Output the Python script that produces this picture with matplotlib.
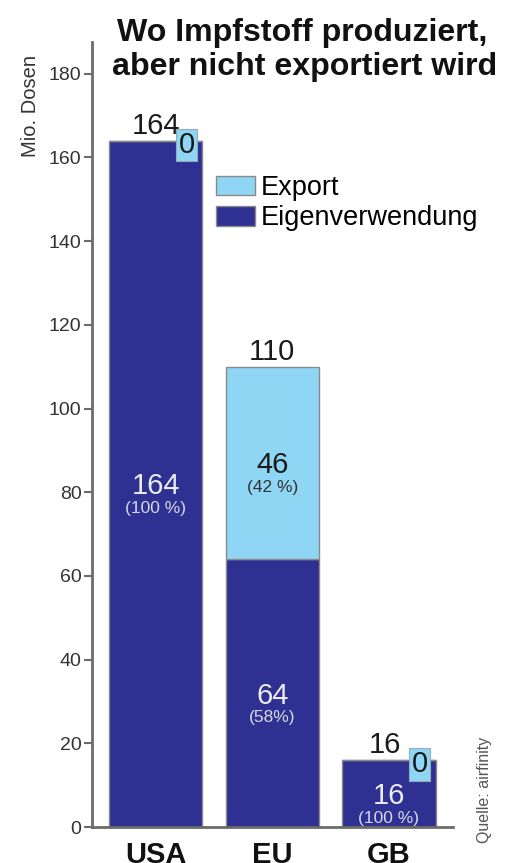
import matplotlib
matplotlib.use("Agg")
import matplotlib.pyplot as plt
from matplotlib.patches import Patch

plt.rcParams['font.family'] = ['Liberation Sans', 'DejaVu Sans']

categories = ["USA", "EU", "GB"]
eigen = [164, 64, 16]
export = [0, 46, 0]
eigen_pct = ["(100 %)", "(58%)", "(100 %)"]
export_pct = ["", "(42 %)", ""]
yticks = [0, 20, 40, 60, 80, 100, 120, 140, 160, 180]

DARK = "#2e3192"
LIGHT = "#8ed6f4"
EDGE = "#8a8a8a"
AXC = "#6b6b6b"

fig = plt.figure(figsize=(5.18, 8.63), dpi=100)
ax = fig.add_axes([92/518, 1-827/863, (453-92)/518, (827-42)/863])

x = list(range(len(categories)))
totals = [e + x_ for e, x_ in zip(eigen, export)]
ax.bar(x, eigen, width=0.8, color=DARK, edgecolor=EDGE, linewidth=1, zorder=2)
ax.bar(x, export, width=0.8, bottom=eigen, color=LIGHT, edgecolor=EDGE, linewidth=1, zorder=2)

ax.set_xlim(-0.545, 2.55)
ax.set_ylim(0, 187.6)
ax.set_yticks(yticks)
ax.set_xticks(x)
ax.set_xticklabels(categories, fontsize=21, fontweight='bold', color='#111111')
ax.tick_params(axis='x', length=0, pad=10)
ax.tick_params(axis='y', length=6, width=1.5, color=AXC, labelsize=14, labelcolor='#333333', pad=1.5)
for s in ['top', 'right']:
    ax.spines[s].set_visible(False)
for s in ['left', 'bottom']:
    ax.spines[s].set_color(AXC)
    ax.spines[s].set_linewidth(2)

for i in x:
    # total on top
    dx = -3 if export[i] == 0 and totals[i] < 50 else 0
    ax.annotate(str(totals[i]), (i, totals[i]), xytext=(dx, 5), textcoords='offset points',
                ha='center', va='baseline', fontsize=21, color='#1a1a1a')
    # eigen segment label
    mid = eigen[i] / 2
    ax.annotate(str(eigen[i]), (i, mid), xytext=(0, -7.5), textcoords='offset points',
                ha='center', va='baseline', fontsize=21, color='#ececf5')
    ax.annotate(eigen_pct[i], (i, mid), xytext=(0, -21), textcoords='offset points',
                ha='center', va='baseline', fontsize=12.5, color='#d8d8e8')
    if export[i] > 0:
        midx = eigen[i] + export[i] / 2
        ax.annotate(str(export[i]), (i, midx), xytext=(0, -7.5), textcoords='offset points',
                    ha='center', va='baseline', fontsize=21, color='#1a1a1a')
        ax.annotate(export_pct[i], (i, midx), xytext=(0, -21), textcoords='offset points',
                    ha='center', va='baseline', fontsize=12.5, color='#333333')
    else:
        ax.annotate(str(export[i]), (i + 0.265, totals[i]), xytext=(0, -3), textcoords='offset points',
                    ha='center', va='center', fontsize=21, color='#1a1a1a',
                    bbox=dict(boxstyle='square,pad=0.08', facecolor=LIGHT, edgecolor='#9ab', linewidth=0.8),
                    zorder=5)

handles = [Patch(facecolor=LIGHT, edgecolor=EDGE), Patch(facecolor=DARK, edgecolor=EDGE)]
fig.legend(handles, ["Export", "Eigenverwendung"], loc='upper left',
           bbox_to_anchor=(216/518, 1-175/863), frameon=False, fontsize=19.5,
           handlelength=1.45, handleheight=0.75, handletextpad=0.2, labelspacing=0.15,
           borderpad=0, borderaxespad=0)

fig.text(302/518, 1-41.5/863, "Wo Impfstoff produziert,", ha='center', va='baseline',
         fontsize=23.1, fontweight='bold', color='#111111')
fig.text(305/518, 1-75/863, "aber nicht exportiert wird", ha='center', va='baseline',
         fontsize=23.1, fontweight='bold', color='#111111')

fig.text(30/518, 1-106/863, "Mio. Dosen", rotation=90, ha='center', va='center',
         fontsize=14.5, color='#333333')
fig.text(484/518, 1-790/863, "Quelle: airfinity", rotation=90, ha='center', va='center',
         fontsize=11.5, color='#555555')

fig.savefig("out.png", dpi=100)
